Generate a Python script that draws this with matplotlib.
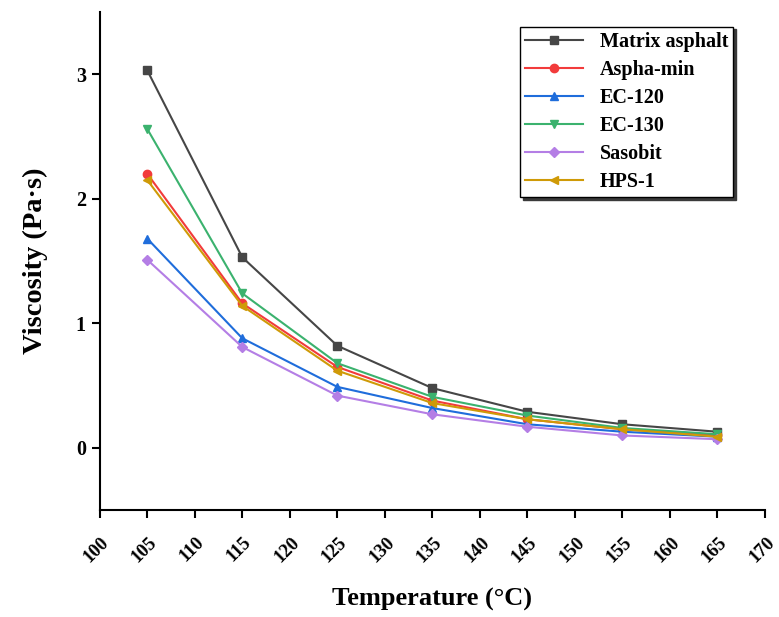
import numpy as np
import matplotlib.pyplot as plt
from matplotlib.transforms import ScaledTranslation

plt.rcParams['font.family'] = ['Liberation Serif', 'DejaVu Serif']
plt.rcParams['font.weight'] = 'bold'

# viscosity vs temperature
temperature = [105, 115, 125, 135, 145, 155, 165]
matrix_asphalt = [3.03, 1.53, 0.82, 0.48, 0.29, 0.19, 0.13]
aspha_min = [2.20, 1.16, 0.65, 0.38, 0.23, 0.15, 0.10]
ec_120 = [1.68, 0.88, 0.49, 0.32, 0.19, 0.13, 0.09]
ec_130 = [2.56, 1.24, 0.68, 0.41, 0.26, 0.16, 0.11]
sasobit = [1.51, 0.81, 0.42, 0.27, 0.17, 0.10, 0.07]
hps_1 = [2.15, 1.14, 0.62, 0.36, 0.23, 0.15, 0.09]

series = [
    ("Matrix asphalt", matrix_asphalt, "#464646", "s"),
    ("Aspha-min", aspha_min, "#f23b3b", "o"),
    ("EC-120", ec_120, "#1f6ddb", "^"),
    ("EC-130", ec_130, "#3bb26e", "v"),
    ("Sasobit", sasobit, "#b47ee5", "D"),
    ("HPS-1", hps_1, "#cf9a07", "<"),
]

fig = plt.figure(figsize=(7.79, 6.17), dpi=100)
ax = fig.add_axes([0.128, 0.173, 0.854, 0.808])

for name, vals, col, mk in series:
    ms = 4.8 if mk == "D" else 6
    ax.plot(temperature, vals, color=col, marker=mk, markersize=ms, lw=1.5,
            label=name)

ax.set_xlim(100, 170)
ax.set_ylim(-0.5, 3.5)
ax.set_xticks(np.arange(100, 171, 5))
ax.set_yticks([0, 1, 2, 3])
ax.tick_params(direction='out', length=6, width=1.5, pad=4)
ax.tick_params(axis='x', labelsize=13.5, pad=11)
ax.tick_params(axis='y', labelsize=14.5)
shift = ScaledTranslation(-3 / 100, 0, fig.dpi_scale_trans)
for lab in ax.get_xticklabels():
    lab.set_rotation(45)
    lab.set_fontweight('bold')
    lab.set_transform(lab.get_transform() + shift)
for lab in ax.get_yticklabels():
    lab.set_fontweight('bold')

for s in ['top', 'right']:
    ax.spines[s].set_visible(False)
for s in ['left', 'bottom']:
    ax.spines[s].set_linewidth(1.5)

ax.set_xlabel("Temperature (°C)", fontsize=19, fontweight='bold', labelpad=16)
ax.set_ylabel("Viscosity (Pa·s)", fontsize=20.5, fontweight='bold', labelpad=20)

leg = ax.legend(loc='upper right', bbox_to_anchor=(0.952, 0.97), borderaxespad=0,
                fancybox=False, shadow={'color': '#3a3a3a', 'alpha': 1},
                edgecolor='black', framealpha=1, prop={'size': 14.5, 'weight': 'bold'},
                handlelength=2.9, labelspacing=0.4, borderpad=0.25)
leg.get_frame().set_linewidth(1.0)

fig.savefig("out.png", dpi=100)
